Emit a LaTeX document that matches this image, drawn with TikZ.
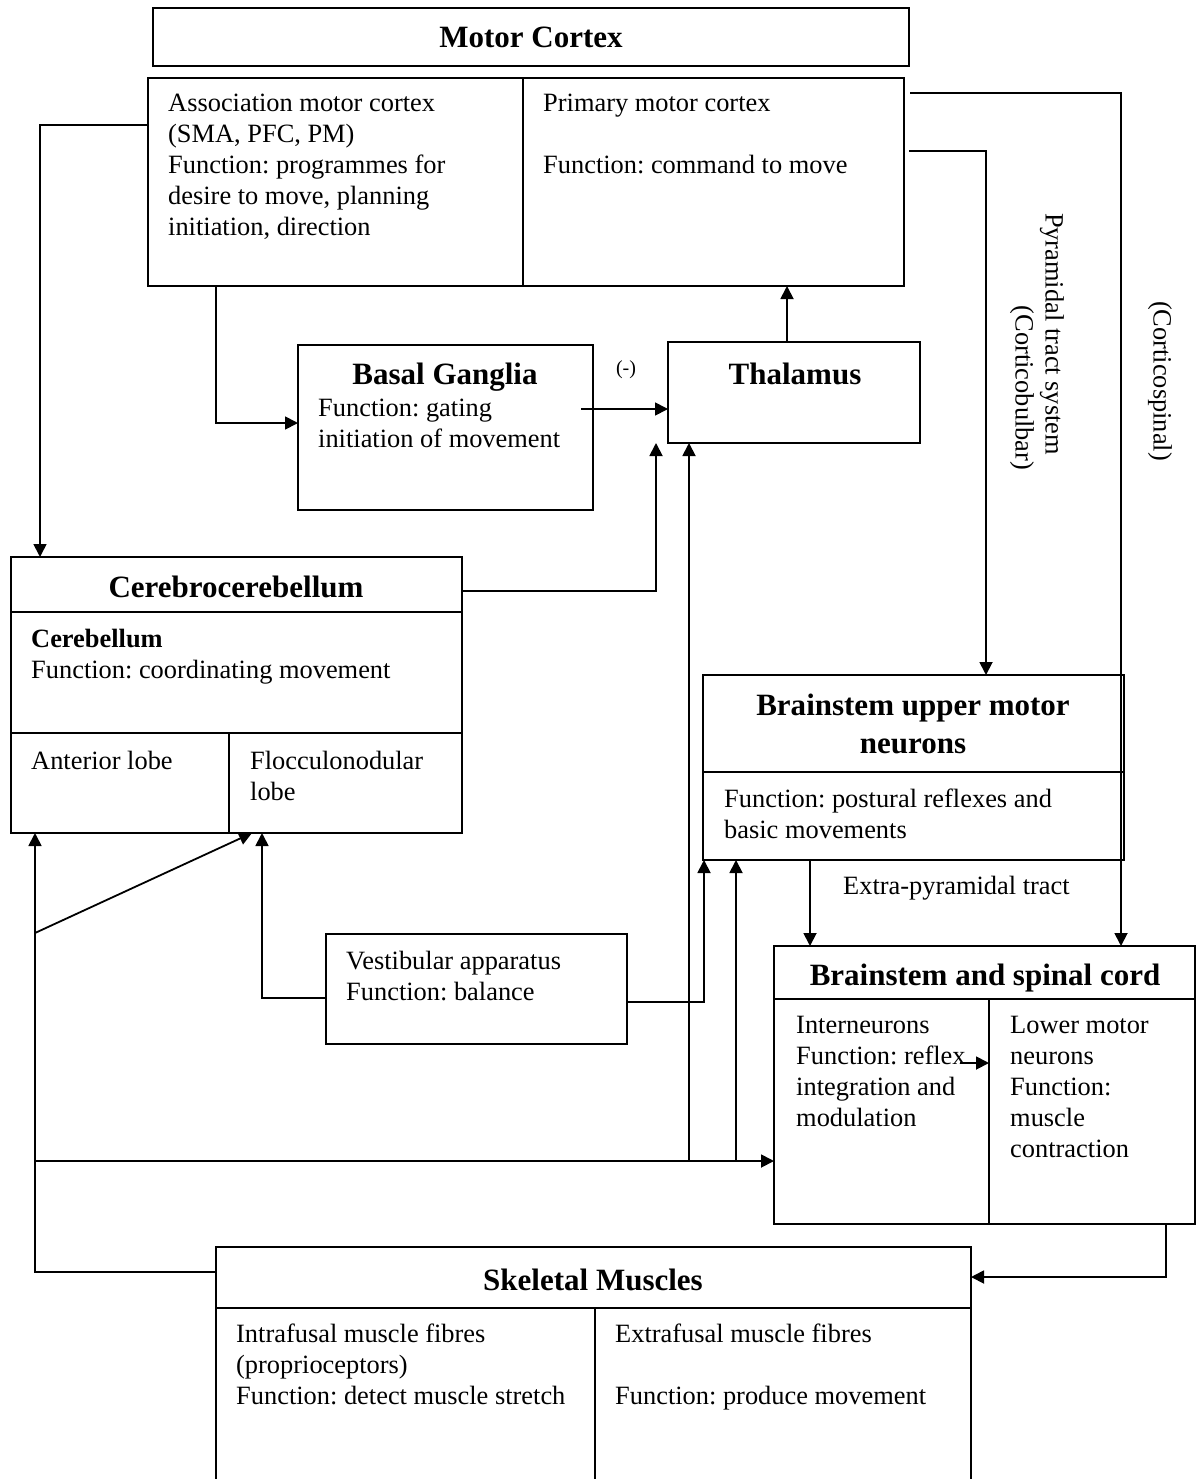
\documentclass[tikz,border=0pt]{standalone}
\usepackage{fontspec}
\setmainfont{Liberation Serif}
\usetikzlibrary{arrows.meta,calc}
\newcommand\dgbody{\fontsize{26.4}{31}\selectfont}
\newcommand\dghead{\fontsize{31}{38}\selectfont\bfseries}
\newcommand\dgsmall{\fontsize{20}{24}\selectfont}
\frenchspacing
\begin{document}
\begin{tikzpicture}[x=1pt,y=-1pt,
  box/.style={draw, line width=1.8pt, inner sep=0pt, outer sep=0pt, anchor=north west},
  txt/.style={anchor=base west, align=left, inner sep=0pt, font=\dgbody},
  head/.style={anchor=base, align=center, inner sep=0pt, font=\dghead},
  vtxt/.style={font=\dgbody, rotate=-90, inner sep=0pt},
  arr/.style={line width=1.8pt, -{Triangle[length=13pt,width=13pt]}},
  ln/.style={line width=1.8pt}]
\useasboundingbox (0,0) rectangle (1196,1479);

% ---------- boxes ----------
\node[box, minimum width=756pt, minimum height=58pt] (mc) at (153,8) {};
\node[box, minimum width=375pt, minimum height=208pt] (assoc) at (148,78) {};
\node[box, minimum width=381pt, minimum height=208pt] (prim) at (523,78) {};
\node[box, minimum width=295pt, minimum height=165pt] (bg) at (298,345) {};
\node[box, minimum width=252pt, minimum height=101pt] (thal) at (668,342) {};
\node[box, minimum width=451pt, minimum height=55pt] (cch) at (11,557) {};
\node[box, minimum width=451pt, minimum height=121pt] (ccb) at (11,612) {};
\node[box, minimum width=218pt, minimum height=100pt] (ant) at (11,733) {};
\node[box, minimum width=233pt, minimum height=100pt] (floc) at (229,733) {};
\node[box, minimum width=421pt, minimum height=97pt] (bumnh) at (703,675) {};
\node[box, minimum width=421pt, minimum height=88pt] (bumnb) at (703,772) {};
\node[box, minimum width=421pt, minimum height=53pt] (bsch) at (774,946) {};
\node[box, minimum width=215pt, minimum height=225pt] (inter) at (774,999) {};
\node[box, minimum width=206pt, minimum height=225pt] (lmn) at (989,999) {};
\node[box, minimum width=301pt, minimum height=110pt] (vest) at (326,934) {};
\node[box, minimum width=755pt, minimum height=61pt] (smh) at (216,1247) {};
\node[box, minimum width=379pt, minimum height=190pt] (intra) at (216,1308) {};
\node[box, minimum width=376pt, minimum height=190pt] (extra) at (595,1308) {};

% ---------- texts (anchor = baseline of the last line) ----------
\node[head] (mctxt) at (531,48) {Motor Cortex};
\node[txt] (assoctxt) at (168,236) {Association motor cortex\\(SMA, PFC, PM)\\Function: programmes for\\desire to move, planning\\initiation, direction};
\node[txt] (primtxt) at (543,174) {Primary motor cortex\\[31pt]Function: command to move};
\node[head] (bgtxt) at (445,384) {Basal Ganglia};
\node[txt] (bgfun) at (318,447) {Function: gating\\initiation of movement};
\node[font=\dgsmall, inner sep=0pt] (minus) at (626,370) {(-)};
\node[head] (thaltxt) at (795,384) {Thalamus};
\node[head] (cctxt) at (236,597) {Cerebrocerebellum};
\node[txt] (cbtxt) at (31,678) {\textbf{Cerebellum}\\Function: coordinating movement};
\node[txt] (anttxt) at (31,769) {Anterior lobe};
\node[txt] (floctxt) at (250,800) {Flocculonodular\\lobe};
\node[head] (bumntxt) at (913,753) {Brainstem upper motor\\neurons};
\node[txt] (bumnfun) at (724,838) {Function: postural reflexes and\\basic movements};
\node[txt] (eptxt) at (843,894) {Extra-pyramidal tract};
\node[head] (bsctxt) at (985,985) {Brainstem and spinal cord};
\node[txt] (intertxt) at (796,1126) {Interneurons\\Function: reflex\\integration and\\modulation};
\node[txt] (lmntxt) at (1010,1157) {Lower motor\\neurons\\Function:\\muscle\\contraction};
\node[txt] (vesttxt) at (346,1000) {Vestibular apparatus\\Function: balance};
\node[head] (smtxt) at (593,1290) {Skeletal Muscles};
\node[txt] (intratxt) at (236,1404) {Intrafusal muscle fibres\\(proprioceptors)\\Function: detect muscle stretch};
\node[txt] (extratxt) at (615,1404) {Extrafusal muscle fibres\\[31pt]Function: produce movement};
\node[vtxt] (pyr) at (1052,334) {Pyramidal tract system};
\node[vtxt] (cbulb) at (1022,388) {(Corticobulbar)};
\node[vtxt] (cspin) at (1160,381) {(Corticospinal)};

% ---------- junction coordinates ----------
\coordinate (cs0) at ($(prim.north east)+(6,15)$);
\coordinate (cb0) at ($(prim.north east)+(5,73)$);
\coordinate (bg0) at ($(bg.east |- 0,409)+(-12,0)$);
\coordinate (fbH) at (35,1161);
\coordinate (fbD) at (35,933);
\coordinate (fbT) at (689,1161);
\coordinate (fbB) at (736,1161);
\coordinate (lmn0) at (960,1063);

% ---------- connectors ----------
\draw[arr] (cs0) -| (1121,0 |- bsch.north);
\draw[arr] (cb0) -| (986,0 |- bumnh.north);
\draw[arr] (assoc.west |- 0,125) -| (40,0 |- cch.north);
\draw[arr] (216,0 |- assoc.south) |- (bg.west |- 0,423);
\draw[arr] (787,0 |- thal.north) -- (787,0 |- prim.south);
\draw[arr] (bg0) -- (thal.west |- bg0);
\draw[arr] (cch.east |- 0,591) -| (656,0 |- thal.south);
\draw[arr] (vest.west |- 0,998) -| (262,0 |- floc.south);
\draw[arr] (vest.east |- 0,1002) -| (704,0 |- bumnb.south);
\draw[arr] (810,0 |- bumnb.south) -- (810,0 |- bsch.north);
\draw[arr] (smh.west |- 0,1272) -| (35,0 |- ant.south);
\draw[arr] (fbH) -- (inter.west |- fbH);
\draw[arr] (fbD) -- ($(floc.south west)+(23,0)$);
\draw[arr] (fbT) -- (689,0 |- thal.south);
\draw[arr] (fbB) -- (736,0 |- bumnb.south);
\draw[arr] (lmn0) -- (lmn.west |- lmn0);
\draw[arr] (1166,0 |- lmn.south) |- (smh.east |- 0,1277);
\end{tikzpicture}
\end{document}
